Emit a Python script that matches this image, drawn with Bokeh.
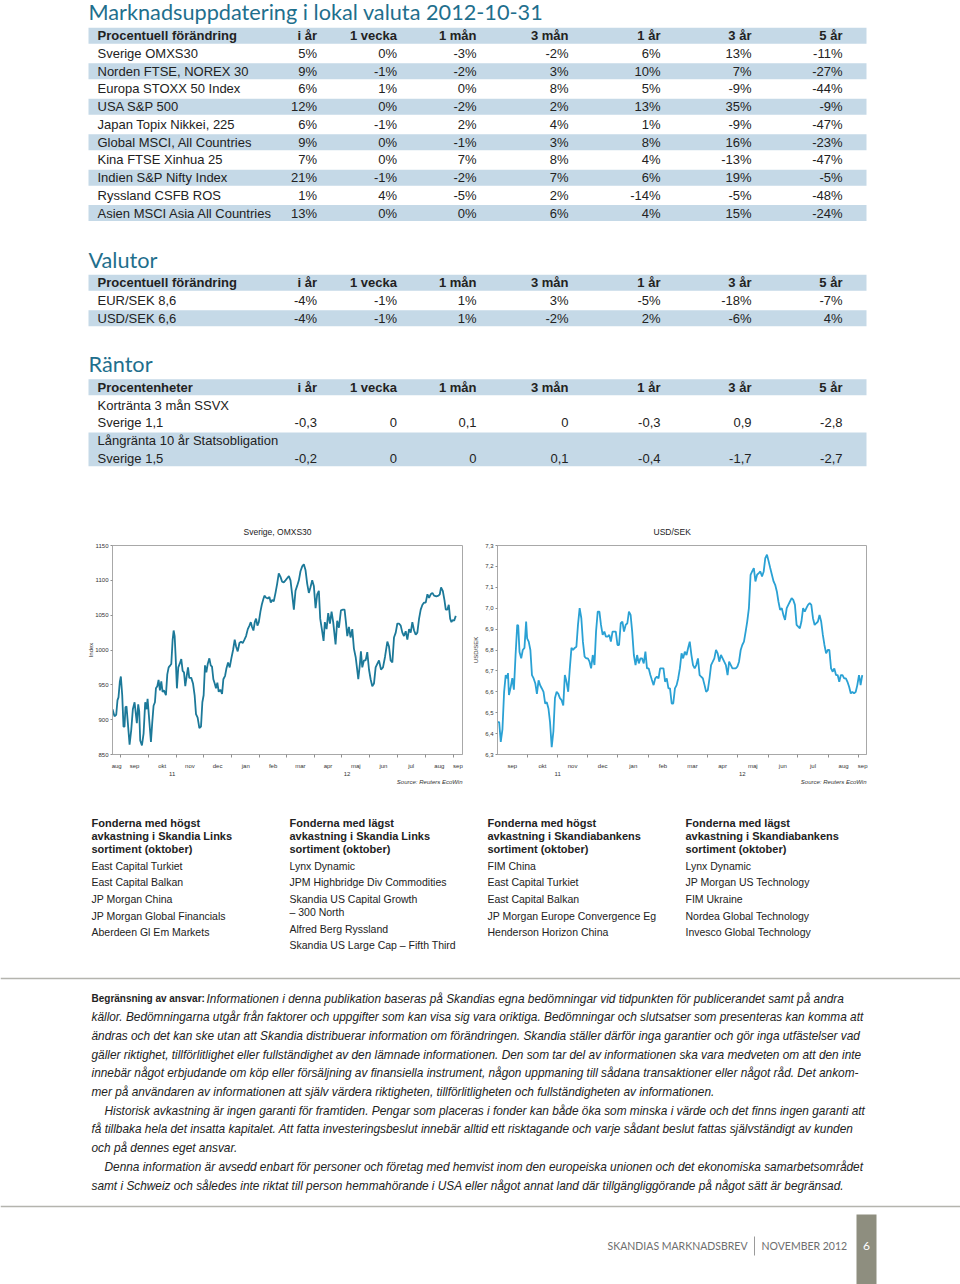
import pandas as pd
from bokeh.plotting import figure
from bokeh.layouts import column, row
from bokeh.models import (ColumnDataSource, Range1d, FixedTicker, LinearAxis, Title,
                          CustomJSTickFormatter)
from bokeh.core.properties import value
from bokeh.embed import file_html
from bokeh.resources import INLINE

# ------------------------------------------------------------------ data
MAIN_TITLE = "Marknadsuppdatering i lokal valuta 2012-10-31"
period_cols = ["i år", "1 vecka", "1 mån", "3 mån", "1 år", "3 år", "5 år"]

markets = ["Sverige OMXS30", "Norden FTSE, NOREX 30", "Europa STOXX 50 Index", "USA S&P 500",
           "Japan Topix Nikkei, 225", "Global MSCI, All Countries", "Kina FTSE Xinhua 25",
           "Indien S&P Nifty Index", "Ryssland CSFB ROS", "Asien MSCI Asia All Countries"]
mkt_i_ar = [5, 9, 6, 12, 6, 9, 7, 21, 1, 13]
mkt_1_vecka = [0, -1, 1, 0, -1, 0, 0, -1, 4, 0]
mkt_1_man = [-3, -2, 0, -2, 2, -1, 7, -2, -5, 0]
mkt_3_man = [-2, 3, 8, 2, 4, 3, 8, 7, 2, 6]
mkt_1_ar = [6, 10, 5, 13, 1, 8, 4, 6, -14, 4]
mkt_3_ar = [13, 7, -9, 35, -9, 16, -13, 19, -5, 15]
mkt_5_ar = [-11, -27, -44, -9, -47, -23, -47, -5, -48, -24]

currencies = ["EUR/SEK 8,6", "USD/SEK 6,6"]
eursek_chg = [-4, -1, 1, 3, -5, -18, -7]
usdsek_chg = [-4, -1, 1, -2, 2, -6, 4]

rate_groups = ["Kortränta 3 mån SSVX", "Långränta 10 år Statsobligation"]
rate_rows = ["Sverige 1,1", "Sverige 1,5"]
short_rate_chg = [-0.3, 0, 0.1, 0, -0.3, 0.9, -2.8]
long_rate_chg = [-0.2, 0, 0, 0.1, -0.4, -1.7, -2.7]

MONTHS_SV = ["jan", "feb", "mar", "apr", "maj", "jun", "jul", "aug", "sep", "okt", "nov", "dec"]
ORIGIN = "2011-09-01"   # day 0 of the chart series

# OMXS30 index (days since 2011-09-01, index level)
omx_days = [-9.2, -7.0, -5.1, -3.7, -2.6, -1.1, 0.0, 1.5, 2.9, 4.0, 5.1, 6.2, 7.4, 9.6, 11.4, 13.2,
            15.1, 16.5, 17.6, 19.1, 20.2, 21.3, 23.2, 25.0, 26.8, 28.3, 29.4, 30.9, 33.1, 34.5, 36.0,
            37.5, 38.6, 40.1, 41.5, 43.0, 44.5, 45.9, 47.4, 49.6, 51.1, 52.6, 54.4, 55.5, 57.0, 58.1,
            59.2, 60.3, 61.7, 63.2, 64.7, 66.5, 68.0, 69.5, 70.9, 72.4, 73.9, 75.3, 77.5, 79.4, 81.2,
            82.7, 84.5, 86.4, 88.2, 89.7, 91.1, 92.6, 94.1, 95.6, 97.4, 98.9, 100.3, 101.8, 103.3,
            104.7, 106.2, 107.7, 109.5, 111.4, 112.8, 114.7, 116.1, 118.0, 119.8, 121.6, 123.5, 125.3,
            126.8, 128.6, 130.5, 132.3, 134.1, 136.0, 137.8, 139.7, 141.5, 143.0, 144.4, 145.9, 147.4,
            148.8, 150.3, 151.8, 153.6, 155.1, 156.6, 158.0, 159.9, 161.7, 163.5, 165.0, 166.5, 168.3,
            170.2, 172.0, 173.8, 175.7, 177.5, 179.3, 181.2, 183.0, 184.9, 186.7, 188.5, 190.4, 192.2,
            194.0, 195.9, 197.7, 199.6, 201.4, 203.2, 205.1, 206.9, 208.7, 210.6, 212.4, 214.3, 216.1,
            217.9, 219.4, 221.2, 223.1, 224.5, 226.4, 228.2, 230.1, 231.9, 233.7, 236.3, 238.1, 240.0,
            242.2, 244.4, 246.2, 247.7, 249.2, 251.0, 252.8, 254.7, 256.5, 258.4, 259.8, 261.3, 263.1,
            264.2, 265.7, 267.5, 269.4, 271.2, 273.1, 274.9, 276.7, 278.6, 280.4, 282.2, 284.1, 286.3,
            288.5, 290.7, 293.3, 295.1, 296.9, 298.8, 300.6, 302.5, 304.3, 306.1, 308.0, 309.8, 311.6,
            313.5, 315.3, 317.2, 319.0, 320.8, 322.7, 324.5, 326.3, 328.2, 330.0, 331.9, 333.7, 335.5,
            337.4, 339.2, 341.0, 342.9, 344.7, 347.3, 349.5, 351.0, 352.4, 354.3, 356.1, 357.6, 359.4,
            360.9, 362.4, 363.8, 365.3, 366.8, 368.6]
omx_vals = [915, 905, 907, 928, 932, 955, 962, 935, 890, 890, 918, 919, 900, 864, 885, 915,
            925, 908, 895, 922, 912, 870, 863, 880, 925, 915, 930, 905, 868, 895, 920,
            925, 945, 948, 957, 942, 955, 940, 942, 935, 965, 975, 978, 980, 1015, 1028,
            1020, 990, 945, 975, 980, 987, 970, 968, 948, 962, 975, 960, 960, 952, 935,
            908, 903, 888, 890, 925, 935, 978, 968, 980, 988, 978, 976, 958, 952,
            945, 953, 940, 943, 937, 958, 963, 973, 982, 975, 988, 1000, 1015,
            1005, 998, 1010, 1012, 1010, 1015, 1020, 1030, 1035, 1040, 1033, 1028, 1040,
            1045, 1035, 1040, 1055, 1065, 1072, 1078, 1075, 1074, 1076, 1068, 1072, 1070,
            1082, 1095, 1110, 1105, 1098, 1097, 1100, 1103, 1106, 1100, 1080, 1058, 1085,
            1092, 1100, 1113, 1120, 1123, 1115, 1095, 1082, 1090, 1100, 1092, 1060, 1080,
            1085, 1045, 1030, 1013, 1040, 1030, 1053, 1038, 1055, 1040, 1008, 1042, 1032,
            1057, 1058, 1058, 1040, 1020, 1033, 1018, 1030, 1002, 990, 975, 958, 980,
            998, 975, 985, 985, 997, 972, 958, 948, 952, 975, 980, 985, 972,
            975, 990, 1012, 1005, 985, 982, 1018, 1025, 1038, 1038, 1035, 1025, 1020,
            1027, 1015, 1030, 1025, 1040, 1028, 1022, 1025, 1045, 1058, 1065, 1068, 1068,
            1080, 1075, 1080, 1082, 1078, 1077, 1078, 1080, 1090, 1085, 1072, 1058, 1058,
            1065, 1045, 1040, 1043, 1042, 1049]

# USD/SEK (days since 2011-09-01, rate)
usd_days = [0.0, 1.7, 3.3, 5.0, 6.7, 8.3, 10.0, 10.6, 11.6, 13.3, 15.0, 16.6, 18.3, 20.0, 21.0, 22.3,
            24.0, 25.6, 27.3, 29.0, 30.0, 31.6, 33.3, 34.9, 36.6, 38.3, 39.9, 41.6, 43.3, 44.9, 46.6,
            48.3, 49.9, 51.6, 53.2, 54.9, 56.6, 58.2, 59.9, 61.6, 63.2, 64.9, 66.6, 68.2, 69.9, 71.6,
            73.2, 74.9, 76.5, 78.2, 79.9, 81.5, 83.2, 84.9, 86.5, 88.2, 89.9, 91.5, 93.2, 94.8, 96.5,
            98.2, 99.8, 101.5, 103.2, 104.8, 106.5, 108.2, 109.8, 111.5, 113.2, 114.8, 116.5, 118.1,
            119.8, 121.5, 123.1, 124.8, 126.5, 128.1, 129.8, 131.5, 133.1, 134.8, 136.4, 138.1, 139.8,
            141.4, 143.1, 144.8, 146.4, 148.1, 149.8, 151.4, 153.1, 154.8, 156.4, 158.1, 159.7, 161.4,
            163.1, 164.7, 166.4, 168.1, 169.7, 171.4, 173.1, 174.7, 176.4, 178.0, 179.7, 181.4, 183.0,
            184.7, 186.4, 188.0, 189.7, 191.4, 193.0, 194.7, 196.4, 198.0, 199.7, 201.3, 203.0, 204.7,
            206.3, 208.0, 209.7, 211.3, 213.0, 214.7, 216.3, 218.0, 219.6, 221.3, 223.0, 224.6, 226.3,
            228.0, 229.6, 231.3, 233.0, 234.6, 236.3, 237.9, 241.3, 242.9, 244.6, 246.3, 247.9, 249.6,
            251.3, 252.9, 254.6, 256.3, 257.9, 259.6, 261.2, 262.9, 264.6, 266.2, 267.9, 269.6, 271.2,
            272.9, 274.6, 276.2, 277.9, 279.6, 281.2, 282.9, 284.5, 286.2, 287.9, 289.5, 291.2, 292.9,
            294.5, 296.2, 297.9, 299.5, 301.2, 302.9, 304.5, 306.2, 307.8, 309.5, 311.2, 312.8, 314.5,
            316.2, 317.8, 319.5, 321.2, 322.8, 324.5, 326.1, 327.8, 329.5, 331.1, 332.8, 334.5, 336.1,
            337.8, 339.5, 341.1, 342.8, 344.5, 346.1, 347.8, 349.4, 351.1, 352.8, 354.4, 356.1, 357.8,
            359.4, 361.1, 362.8, 364.4, 366.1, 367.1, 367.7, 369.4]
usd_vals = [6.455, 6.455, 6.36, 6.42, 6.60, 6.68, 6.665, 6.69, 6.585, 6.62, 6.665, 6.61, 6.776, 6.92,
            6.917, 6.79, 6.76, 6.80, 6.81, 6.936, 6.856, 6.84, 6.80, 6.68, 6.664, 6.64, 6.59, 6.655,
            6.63, 6.616, 6.60, 6.544, 6.55, 6.52, 6.455, 6.335, 6.41, 6.57, 6.60, 6.59, 6.57, 6.56,
            6.535, 6.68, 6.648, 6.60, 6.71, 6.81, 6.80, 6.81, 6.816, 6.92, 7.00, 6.952, 6.84, 6.768,
            6.76, 6.76, 6.744, 6.712, 6.776, 6.728, 6.888, 6.984, 6.984, 6.92, 6.872, 6.888, 6.864,
            6.864, 6.872, 6.84, 6.888, 6.888, 6.888, 6.824, 6.824, 6.928, 6.936, 6.888, 6.92, 6.928,
            6.984, 6.968, 6.888, 6.776, 6.728, 6.776, 6.736, 6.76, 6.76, 6.736, 6.792, 6.712, 6.712,
            6.68, 6.656, 6.632, 6.664, 6.672, 6.664, 6.712, 6.712, 6.712, 6.648, 6.664, 6.616, 6.616,
            6.544, 6.544, 6.616, 6.632, 6.664, 6.712, 6.784, 6.76, 6.792, 6.776, 6.808, 6.84, 6.776,
            6.728, 6.712, 6.728, 6.76, 6.68, 6.672, 6.664, 6.632, 6.60, 6.608, 6.664, 6.728, 6.744,
            6.76, 6.80, 6.784, 6.744, 6.776, 6.76, 6.744, 6.728, 6.68, 6.744, 6.728, 6.712, 6.712,
            6.72, 6.744, 6.80, 6.824, 6.84, 6.888, 6.936, 7.00, 7.16, 7.176, 7.192, 7.128, 7.16,
            7.168, 7.176, 7.152, 7.176, 7.24, 7.256, 7.224, 7.192, 7.16, 7.128, 7.112, 7.08, 7.032,
            6.992, 7.00, 6.968, 6.944, 7.00, 7.016, 7.032, 7.048, 7.04, 7.016, 6.92, 6.912, 6.904,
            6.936, 7.00, 6.984, 7.00, 7.016, 7.024, 7.016, 6.952, 6.92, 6.928, 6.936, 6.968, 6.936,
            6.872, 6.824, 6.784, 6.80, 6.80, 6.712, 6.696, 6.712, 6.68, 6.68, 6.648, 6.68, 6.68,
            6.664, 6.664, 6.648, 6.624, 6.592, 6.60, 6.592, 6.60, 6.632, 6.68, 6.656, 6.632, 6.68]

omx_yticks = [850, 900, 950, 1000, 1050, 1100, 1150]
usd_yticks = [6.3, 6.4, 6.5, 6.6, 6.7, 6.8, 6.9, 7.0, 7.1, 7.2, 7.3]

fund_headers = ["Fonderna med högst\navkastning i Skandia Links\nsortiment (oktober)",
                "Fonderna med lägst\navkastning i Skandia Links\nsortiment (oktober)",
                "Fonderna med högst\navkastning i Skandiabankens\nsortiment (oktober)",
                "Fonderna med lägst\navkastning i Skandiabankens\nsortiment (oktober)"]
funds_high_links = ["East Capital Turkiet", "East Capital Balkan", "JP Morgan China",
                    "JP Morgan Global Financials", "Aberdeen Gl Em Markets"]
funds_low_links = ["Lynx Dynamic", "JPM Highbridge Div Commodities",
                   "Skandia US Capital Growth\n– 300 North", "Alfred Berg Ryssland",
                   "Skandia US Large Cap – Fifth Third"]
funds_high_bank = ["FIM China", "East Capital Turkiet", "East Capital Balkan",
                   "JP Morgan Europe Convergence Eg", "Henderson Horizon China"]
funds_low_bank = ["Lynx Dynamic", "JP Morgan US Technology", "FIM Ukraine",
                  "Nordea Global Technology", "Invesco Global Technology"]

disclaimer_lead = "Begränsning av ansvar:"
disclaimer_lines = [
    "Informationen i denna publikation baseras på Skandias egna bedömningar vid tidpunkten för publicerandet samt på andra",
    "källor. Bedömningarna utgår från faktorer och uppgifter som kan visa sig vara oriktiga. Bedömningar och slutsatser som presenteras kan komma att",
    "ändras och det kan ske utan att Skandia distribuerar information om förändringen. Skandia ställer därför inga garantier och gör inga utfästelser vad",
    "gäller riktighet, tillförlitlighet eller fullständighet av den lämnade informationen. Den som tar del av informationen ska vara medveten om att den inte",
    "innebär något erbjudande om köp eller försäljning av finansiella instrument, någon uppmaning till sådana transaktioner eller något råd. Det ankom-",
    "mer på användaren av informationen att själv värdera riktigheten, tillförlitligheten och fullständigheten av informationen.",
    "Historisk avkastning är ingen garanti för framtiden. Pengar som placeras i fonder kan både öka som minska i värde och det finns ingen garanti att",
    "få tillbaka hela det insatta kapitalet. Att fatta investeringsbeslut innebär alltid ett risktagande och varje sådant beslut fattas självständigt av kunden",
    "och på dennes eget ansvar.",
    "Denna information är avsedd enbart för personer och företag med hemvist inom den europeiska unionen och det ekonomiska samarbetsområdet",
    "samt i Schweiz och således inte riktat till person hemmahörande i USA eller något annat land där tillgängliggörande på något sätt är begränsad.",
]
disclaimer_indent = [False, False, False, False, False, False, True, False, False, True, False]
footer_left = "SKANDIAS MARKNADSBREV"
footer_right = "NOVEMBER 2012"
page_number = "6"

# ------------------------------------------------------------------ styles
TEAL = "#1f6f8d"
BAND = "#c5d9e7"
INK = "#222222"
TFONT = "Liberation Sans"
HFONT = "Lato"
PAGE_W = 960


def put(p, xs, ys, texts, size, align="left", style="normal", color=INK, font=TFONT,
        baseline="middle"):
    src = ColumnDataSource(dict(x=list(xs), y=list(ys), t=list(texts)))
    p.text(x="x", y="y", text="t", source=src, text_font=value(font),
           text_font_size=value(f"{size}px"), text_align=align, text_baseline=baseline,
           text_font_style=style, text_color=color)


def blank(y0, y1):
    p = figure(width=PAGE_W, height=y1 - y0, x_range=Range1d(0, PAGE_W), y_range=Range1d(y1, y0),
               x_axis_type=None, y_axis_type=None, output_backend="svg",
               toolbar_location=None, min_border=0)
    p.grid.visible = False
    p.outline_line_color = None
    return p


def pct(v):
    return f"{v}%"


def dec(v):
    return "0" if v == 0 else f"{v:.1f}".replace(".", ",")


# ------------------------------------------------------------------ top: tables
top = blank(0, 515)
COL_R = [316.5, 396.5, 476, 568, 660, 751, 842]
STEP = 17.73
BAND_L, BAND_R = 88, 866


def band(p, yc, h=16):
    p.quad(left=BAND_L, right=BAND_R, top=yc - h / 2, bottom=yc + h / 2,
           fill_color=BAND, line_color=None)


def header(p, yc, label):
    band(p, yc)
    put(p, [97], [yc], [label], 13, style="bold")
    put(p, COL_R, [yc] * 7, period_cols, 13, align="right", style="bold")


def section_title(p, y, text):
    put(p, [88], [y], [text], 21.7, color=TEAL, font=HFONT, baseline="middle")


section_title(top, 11.5, MAIN_TITLE)
y0 = 35.3
header(top, y0, "Procentuell förändring")
mkt_cols = [mkt_i_ar, mkt_1_vecka, mkt_1_man, mkt_3_man, mkt_1_ar, mkt_3_ar, mkt_5_ar]
for i, name in enumerate(markets):
    yc = y0 + (i + 1) * STEP
    if i % 2 == 1:
        band(top, yc)
    put(top, [97], [yc], [name], 13)
    put(top, COL_R, [yc] * 7, [pct(c[i]) for c in mkt_cols], 13, align="right")

section_title(top, 259, "Valutor")
y1 = 282.3
header(top, y1, "Procentuell förändring")
for i, (name, vals) in enumerate(zip(currencies, [eursek_chg, usdsek_chg])):
    yc = y1 + (i + 1) * STEP
    if i % 2 == 1:
        band(top, yc)
    put(top, [97], [yc], [name], 13)
    put(top, COL_R, [yc] * 7, [pct(v) for v in vals], 13, align="right")

section_title(top, 363, "Räntor")
y2 = 386.8
header(top, y2, "Procentenheter")
for i, (grp, name, vals) in enumerate(zip(rate_groups, rate_rows, [short_rate_chg, long_rate_chg])):
    yg = y2 + (2 * i + 1) * STEP
    yr = yg + STEP
    if i % 2 == 1:
        top.quad(left=BAND_L, right=BAND_R, top=yg - 8, bottom=yr + 8,
                 fill_color=BAND, line_color=None)
    put(top, [97], [yg], [grp], 13)
    put(top, [97], [yr], [name], 13)
    put(top, COL_R, [yr] * 7, [dec(v) for v in vals], 13, align="right")

# ------------------------------------------------------------------ charts
origin = pd.Timestamp(ORIGIN)
month_starts = pd.date_range("2011-08-01", "2012-10-01", freq="MS")
bounds = [int((m - origin).days) for m in month_starts]
jan1 = int((pd.Timestamp("2012-01-01") - origin).days)


def month_ticker(lo, hi):
    mids, labels, minors = [], {}, []
    for a, b, m in zip(bounds[:-1], bounds[1:], month_starts[:-1]):
        s, e = max(a, lo), min(b, hi)
        if e - s > 2:
            c = round((s + e) / 2, 2)
            mids.append(c)
            labels[c] = MONTHS_SV[m.month - 1]
        if lo < a < hi:
            minors.append(a)
    return mids, labels, minors


def chart(width, xlo, xhi, ylo, yhi, days, vals, color, title, title_off, ylabel,
          yticks, yfmt, borders, ylab_standoff, title_standoff):
    bl, br, bt, bb = borders
    p = figure(width=width, height=275, x_range=Range1d(xlo, xhi), y_range=Range1d(ylo, yhi),
               output_backend="svg", toolbar_location=None,
               min_border_left=bl, min_border_right=br, min_border_top=bt, min_border_bottom=bb)
    p.grid.visible = False
    p.outline_line_color = "#a8a8a8"
    p.line(days, vals, line_color=color, line_width=1.8)

    p.title.text = title
    p.title.align = "left"
    p.title.offset = title_off
    p.title.text_font = TFONT
    p.title.text_font_size = "8.5px"
    p.title.text_font_style = "normal"
    p.title.text_color = INK
    p.title.standoff = title_standoff

    mids, labels, minors = month_ticker(xlo, xhi)
    xa = p.xaxis[0]
    xa.ticker = FixedTicker(ticks=mids, minor_ticks=minors)
    xa.major_label_overrides = labels
    xa.major_tick_line_color = None
    xa.major_tick_out = 0
    xa.major_tick_in = 0
    xa.minor_tick_out = 3
    xa.minor_tick_in = 0
    xa.minor_tick_line_color = "#909090"
    xa.axis_line_color = "#a8a8a8"
    xa.major_label_standoff = 5
    xa.major_label_text_font = TFONT
    xa.major_label_text_font_size = "6px"
    xa.major_label_text_color = "#333333"

    ycs = [round((xlo + jan1) / 2, 2), round((jan1 + xhi) / 2, 2)]
    ya2 = LinearAxis(ticker=FixedTicker(ticks=ycs), major_label_overrides={ycs[0]: "11", ycs[1]: "12"},
                     axis_line_color=None, major_tick_line_color=None, minor_tick_line_color=None,
                     major_tick_out=0, major_tick_in=0, minor_tick_out=0, minor_tick_in=0,
                     major_label_standoff=0, major_label_text_font=TFONT,
                     major_label_text_font_size="6px", major_label_text_color="#333333")
    p.add_layout(ya2, "below")

    ya = p.yaxis[0]
    ya.ticker = FixedTicker(ticks=yticks)
    if yfmt:
        ya.formatter = CustomJSTickFormatter(code="return tick.toFixed(1).replace('.', ',')")
    ya.axis_line_color = "#a8a8a8"
    ya.major_tick_line_color = "#909090"
    ya.major_tick_out = 2
    ya.major_tick_in = 0
    ya.minor_tick_line_color = None
    ya.major_label_standoff = 2
    ya.major_label_text_font = TFONT
    ya.major_label_text_font_size = "6px"
    ya.major_label_text_color = "#333333"
    ya.axis_label = ylabel
    ya.axis_label_standoff = ylab_standoff
    ya.axis_label_text_font = TFONT
    ya.axis_label_text_font_size = "6px"
    ya.axis_label_text_font_style = "normal"
    ya.axis_label_text_color = "#333333"

    p.add_layout(Title(text="Source: Reuters EcoWin", align="right", text_font=TFONT,
                       text_font_size="6px", text_font_style="italic", text_color="#333333",
                       standoff=-4), "below")
    return p


left = chart(470, -9.2, 376, 850, 1150, omx_days, omx_vals, "#1c7999", "Sverige, OMXS30", 131,
             "Index", omx_yticks, False, (112, 8, 30, 33), -2, 18)
right = chart(490, 0, 373.7, 6.3, 7.3, usd_days, usd_vals, "#2aa1d4", "USD/SEK", 156,
              "USD/SEK", usd_yticks, True, (22, 94, 29, 36), 3, 17)

# ------------------------------------------------------------------ bottom: funds, disclaimer, footer
bot = blank(790, 1284)
fund_cols = [funds_high_links, funds_low_links, funds_high_bank, funds_low_bank]
FX = [91, 289, 487, 685]
for x, hdr, items in zip(FX, fund_headers, fund_cols):
    hl = hdr.split("\n")
    put(bot, [x] * len(hl), [822 + 13 * k for k in range(len(hl))], hl, 11, style="bold")
    y = 865
    for it in items:
        parts = it.split("\n")
        for k, part in enumerate(parts):
            put(bot, [x], [y + 13 * k], [part], 10.5)
        y += 16.7 + 13 * (len(parts) - 1)

bot.line([0, PAGE_W], [978, 978], line_color="#b4b4ae", line_width=1.5)
bot.line([0, PAGE_W], [1206, 1206], line_color="#b4b4ae", line_width=1.5)

DSIZE = 11.85
put(bot, [91], [998], [disclaimer_lead], 10, style="bold")
for i, (ln, ind) in enumerate(zip(disclaimer_lines, disclaimer_indent)):
    x = 206 if i == 0 else (104 if ind else 91)
    put(bot, [x], [998 + i * 18.7], [ln], DSIZE, style="italic")

put(bot, [747], [1245], [footer_left], 10.5, align="right", color="#6e6e6e", font=HFONT)
put(bot, [761], [1245], [footer_right], 10.5, color="#6e6e6e", font=HFONT)
bot.line([754, 754], [1236, 1255], line_color="#9a9a9a", line_width=1)
bot.quad(left=856, right=876, top=1214, bottom=1284, fill_color="#8e8e7f", line_color=None)
put(bot, [866], [1245], [page_number], 12, align="center", color="white", font=HFONT)

page = column(top, row(left, right), bot)
open("out.html", "w").write(file_html(page, INLINE))
